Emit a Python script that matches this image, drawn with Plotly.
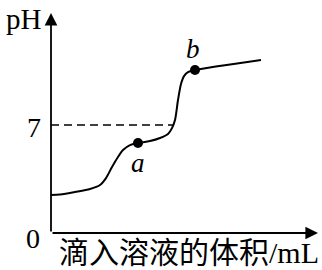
import plotly.graph_objects as go

# Titration curve (volume in arbitrary units, pH)
vol = [0, 0.9, 2.4, 3.9, 4.9, 5.5, 6.1, 6.7, 7.2, 7.9, 8.7, 9.9, 10.9, 11.7, 12.1, 12.4, 12.7, 13.0, 13.3, 13.7, 14.4, 21.0]
ph = [2.46, 2.5, 2.66, 2.85, 3.11, 3.56, 4.28, 4.93, 5.38, 5.70, 5.83, 5.96, 6.16, 6.42, 6.80, 7.32, 8.62, 9.66, 10.17, 10.43, 10.56, 11.21]

point_names = ["a", "b"]
point_vol = [8.7, 14.4]
point_ph = [5.83, 10.56]

neutral_ph = 7
dash_end_vol = 12.2
x_max = 27
y_max = 14.26

serif = "Liberation Serif, Times New Roman, serif"
title_font = "Liberation Serif, Noto Sans CJK SC, serif"

fig = go.Figure()
fig.add_trace(go.Scatter(x=[0, dash_end_vol], y=[neutral_ph, neutral_ph], mode="lines",
                         line=dict(color="black", width=1.6, dash="8px,5px"), hoverinfo="skip"))
fig.add_trace(go.Scatter(x=vol, y=ph, mode="lines", line=dict(color="black", width=2, shape="spline", smoothing=0.8),
                         hoverinfo="skip"))
fig.add_trace(go.Scatter(x=point_vol, y=point_ph, mode="markers", marker=dict(color="black", size=10),
                         hoverinfo="skip"))

ann = []
# axes with arrows
ann.append(dict(x=0, y=y_max, ax=0, ay=0, xref="x", yref="y", axref="x", ayref="y", text="", showarrow=True,
                arrowhead=2, arrowsize=1.4, arrowwidth=1.8, arrowcolor="black", standoff=0, startstandoff=0))
ann.append(dict(x=x_max - 0.3, y=0, ax=0, ay=0, xref="x", yref="y", axref="x", ayref="y", text="", showarrow=True,
                arrowhead=2, arrowsize=1.4, arrowwidth=1.8, arrowcolor="black", standoff=0, startstandoff=0))
# labels
ann.append(dict(x=0, y=0, xref="x", yref="y", text="0", showarrow=False, xanchor="center", yanchor="middle",
                xshift=-18, yshift=-5, font=dict(family=serif, size=28, color="black")))
ann.append(dict(x=0, y=neutral_ph, xref="x", yref="y", text="7", showarrow=False, xanchor="center", yanchor="middle",
                xshift=-17, yshift=-2, font=dict(family=serif, size=28, color="black")))
ann.append(dict(x=0, y=y_max, xref="x", yref="y", text="pH", showarrow=False, xanchor="center", yanchor="middle",
                xshift=-27, yshift=-6, font=dict(family=serif, size=29, color="black")))
ann.append(dict(x=0.5, y=0, xref="paper", yref="y", text="滴入溶液的体积/mL", showarrow=False,
                xanchor="center", yanchor="middle", xshift=3, yshift=-19, borderpad=0,
                font=dict(family=title_font, size=30, color="black")))
label_shift = [(0, -20), (-2, 21)]
for name, xv, yv, (dx, dy) in zip(point_names, point_vol, point_ph, label_shift):
    ann.append(dict(x=xv, y=yv, xref="x", yref="y", text=f"<i>{name}</i>", showarrow=False,
                    xanchor="center", yanchor="middle", xshift=dx, yshift=dy,
                    font=dict(family=serif, size=27, color="black")))

fig.update_layout(
    width=322, height=270, margin=dict(l=51, r=1, t=13, b=37),
    plot_bgcolor="white", paper_bgcolor="white", showlegend=False,
    xaxis=dict(range=[0, x_max], visible=False, fixedrange=True),
    yaxis=dict(range=[0, y_max], visible=False, fixedrange=True),
    annotations=ann,
)
fig.write_html("out.html", config={"displayModeBar": False})
